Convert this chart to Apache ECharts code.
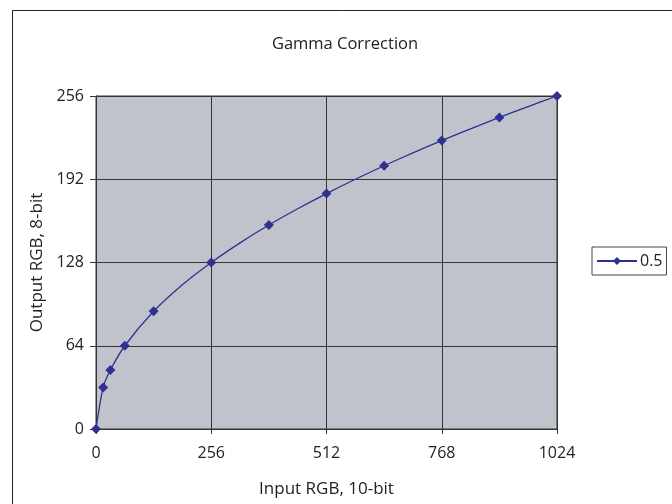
<!DOCTYPE html>
<html>
<head>
<meta charset="utf-8">
<script src="https://cdn.jsdelivr.net/npm/echarts@6/dist/echarts.min.js"></script>
<style>
  html, body { margin: 0; padding: 0; background: #fff; }
  #chart { width: 672px; height: 504px; }
</style>
</head>
<body>
<div id="chart"></div>
<script>
// ==================
// DATA
// ==================

const inputValues = [0, 16, 32, 64, 128, 192, 256, 320, 384, 448, 512, 576, 640, 704, 768, 832, 896, 960, 1024];
const outputValues = [0, 32, 45.3, 64, 90.5, 110.9, 128, 143.1, 156.8, 169.3, 181, 192, 202.4, 212.3, 221.7, 230.8, 239.5, 247.9, 256];
// inputs that carry a diamond marker
const markedInputs = [0, 16, 32, 64, 128, 256, 384, 512, 640, 768, 896, 1024];
const xTicks = [0, 256, 512, 768, 1024];
const yTicks = [0, 64, 128, 192, 256];
const seriesName = '0.5';

const lineColor = '#2E3192';
const fontFamily = '"Open Sans", "Noto Sans", sans-serif';

const chart = echarts.init(document.getElementById('chart'));

const points = inputValues.map((x, i) => (
    markedInputs.includes(x)
        ? { value: [x, outputValues[i]] }
        : { value: [x, outputValues[i]], symbol: 'none' }
));

const axisCommon = {
    axisLine: { show: true, lineStyle: { color: '#333', width: 1 } },
    axisTick: { show: true, length: 5, lineStyle: { color: '#333' } },
    axisLabel: { color: '#222', fontSize: 16, fontFamily: fontFamily, formatter: v => String(v) },
    splitLine: { show: true, lineStyle: { color: '#333', width: 1 } },
    nameTextStyle: { color: '#222', fontSize: 17, fontFamily: fontFamily }
};

const option = {
    animation: false,
    backgroundColor: '#fff',
    title: {
        text: 'Gamma Correction',
        left: 340,
        top: 31,
        textAlign: 'center',
        textStyle: { color: '#222', fontSize: 16.5, fontWeight: 'normal', fontFamily: fontFamily }
    },
    graphic: [{
        type: 'rect',
        left: 10,
        top: 8,
        shape: { width: 720, height: 540 },
        style: { fill: 'none', stroke: '#222', lineWidth: 1 },
        silent: true,
        z: -10
    }],
    legend: {
        left: 592,
        top: 247,
        data: [seriesName],
        itemWidth: 40,
        itemHeight: 10,
        itemGap: 0,
        padding: [6, 4, 6, 4],
        backgroundColor: '#fff',
        borderColor: '#444',
        borderWidth: 1,
        borderRadius: 0,
        textStyle: { color: '#222', fontSize: 16, fontFamily: fontFamily, padding: [0, 0, 0, -2] }
    },
    grid: {
        left: 96,
        right: 115,
        top: 96,
        bottom: 75,
        show: true,
        backgroundColor: '#C0C3CB',
        borderColor: '#333',
        borderWidth: 1
    },
    xAxis: Object.assign({}, axisCommon, {
        type: 'value',
        min: 0,
        max: 1024,
        interval: 256,
        name: 'Input RGB, 10-bit',
        nameLocation: 'middle',
        nameGap: 52,
        axisLabel: Object.assign({}, axisCommon.axisLabel, {
            margin: 16,
            customValues: xTicks
        })
    }),
    yAxis: Object.assign({}, axisCommon, {
        type: 'value',
        min: 0,
        max: 256,
        interval: 64,
        name: 'Output RGB, 8-bit',
        nameLocation: 'middle',
        nameGap: 50,
        axisTick: { show: true, length: 6, inside: false, lineStyle: { color: '#333' } },
        axisLabel: Object.assign({}, axisCommon.axisLabel, {
            margin: 12,
            customValues: yTicks
        })
    }),
    series: [{
        name: seriesName,
        type: 'line',
        data: points,
        smooth: 0.3,
        symbol: 'diamond',
        symbolSize: 10,
        showSymbol: true,
        lineStyle: { color: lineColor, width: 1.3 },
        itemStyle: { color: lineColor, borderWidth: 0 }
    }]
};

chart.setOption(option);
</script>
</body>
</html>
